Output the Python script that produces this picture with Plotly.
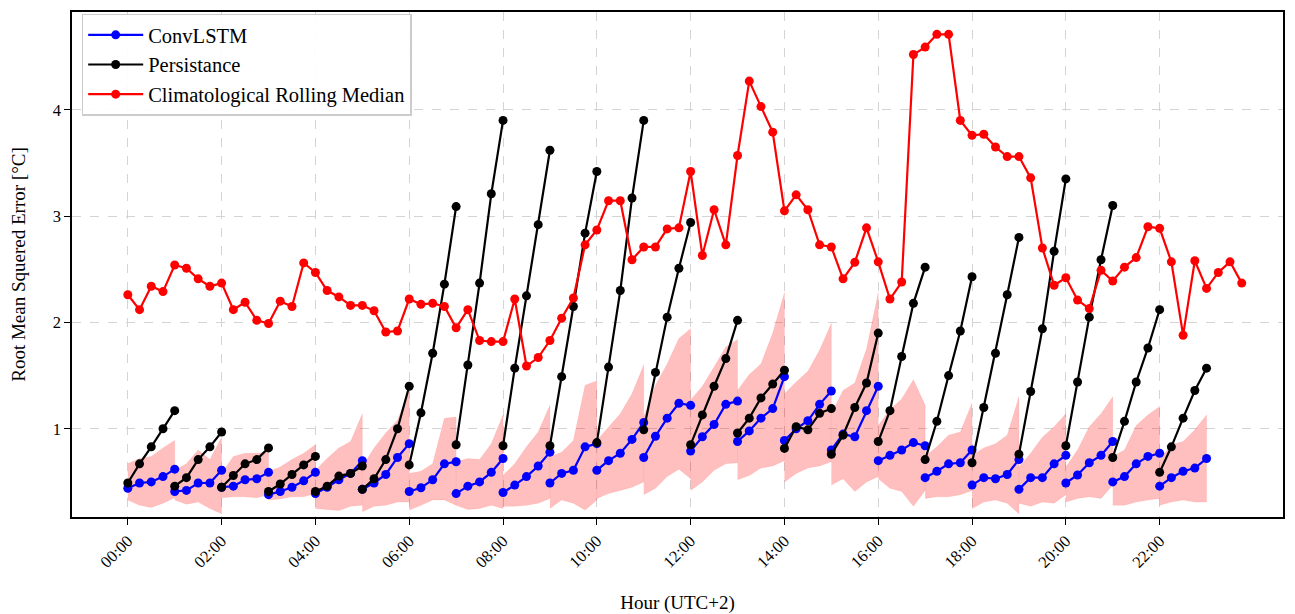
import plotly.graph_objects as go

# ---------------- data ----------------
segment_start_hours = list(range(23))
lead_offsets = [0.0, 0.25, 0.5, 0.75, 1.0]

convlstm = [
    [0.44, 0.49, 0.50, 0.55, 0.62],
    [0.41, 0.42, 0.49, 0.49, 0.61],
    [0.45, 0.46, 0.52, 0.53, 0.59],
    [0.38, 0.41, 0.45, 0.51, 0.59],
    [0.39, 0.45, 0.52, 0.58, 0.70],
    [0.43, 0.49, 0.57, 0.73, 0.86],
    [0.41, 0.445, 0.52, 0.67, 0.69],
    [0.39, 0.46, 0.50, 0.59, 0.72],
    [0.40, 0.47, 0.55, 0.65, 0.78],
    [0.49, 0.58, 0.61, 0.83, 0.86],
    [0.61, 0.70, 0.77, 0.90, 1.06],
    [0.73, 0.93, 1.10, 1.24, 1.22],
    [0.79, 0.925, 1.04, 1.23, 1.26],
    [0.88, 0.98, 1.10, 1.19, 1.49],
    [0.89, 1.00, 1.075, 1.23, 1.355],
    [0.80, 0.95, 0.925, 1.17, 1.40],
    [0.70, 0.75, 0.80, 0.87, 0.84],
    [0.54, 0.60, 0.67, 0.68, 0.80],
    [0.47, 0.54, 0.53, 0.57, 0.71],
    [0.43, 0.54, 0.54, 0.67, 0.75],
    [0.49, 0.565, 0.68, 0.75, 0.88],
    [0.50, 0.55, 0.67, 0.74, 0.77],
    [0.46, 0.54, 0.60, 0.63, 0.72],
]

persistence = [
    [0.49, 0.67, 0.83, 1.00, 1.17],
    [0.46, 0.54, 0.71, 0.83, 0.97],
    [0.45, 0.56, 0.67, 0.71, 0.82],
    [0.41, 0.48, 0.57, 0.66, 0.74],
    [0.41, 0.46, 0.555, 0.58, 0.65],
    [0.43, 0.53, 0.71, 1.00, 1.40],
    [0.66, 1.15, 1.71, 2.36, 3.09],
    [0.85, 1.60, 2.37, 3.21, 3.90],
    [0.84, 1.57, 2.25, 2.92, 3.62],
    [0.84, 1.49, 2.15, 2.84, 3.42],
    [0.87, 1.58, 2.30, 3.17, 3.90],
    [0.99, 1.53, 2.05, 2.51, 2.94],
    [0.85, 1.13, 1.40, 1.66, 2.02],
    [0.96, 1.10, 1.29, 1.42, 1.55],
    [0.815, 1.02, 0.99, 1.145, 1.19],
    [0.76, 0.94, 1.20, 1.43, 1.90],
    [0.88, 1.17, 1.68, 2.18, 2.52],
    [0.71, 1.07, 1.50, 1.92, 2.43],
    [0.68, 1.20, 1.71, 2.26, 2.80],
    [0.76, 1.35, 1.94, 2.67, 3.35],
    [0.84, 1.44, 2.05, 2.59, 3.10],
    [0.73, 1.07, 1.44, 1.76, 2.12],
    [0.59, 0.83, 1.10, 1.36, 1.57],
]

convlstm_upper = [
    [0.67, 0.72, 0.74, 0.82, 0.89],
    [0.61, 0.67, 0.80, 0.71, 0.92],
    [0.58, 0.74, 0.77, 0.77, 0.78],
    [0.60, 0.64, 0.71, 0.77, 0.85],
    [0.61, 0.72, 0.82, 0.88, 1.14],
    [0.64, 0.82, 0.96, 1.08, 1.36],
    [0.58, 0.60, 0.67, 1.10, 1.11],
    [0.69, 0.72, 0.71, 0.86, 1.13],
    [0.56, 0.67, 0.83, 0.97, 1.22],
    [0.74, 0.78, 0.89, 1.41, 1.45],
    [0.89, 1.02, 1.14, 1.33, 1.60],
    [1.11, 1.41, 1.61, 1.85, 1.94],
    [1.27, 1.40, 1.58, 1.77, 1.84],
    [1.36, 1.51, 1.61, 1.90, 2.28],
    [1.33, 1.44, 1.54, 1.74, 1.99],
    [1.14, 1.36, 1.43, 1.75, 2.28],
    [1.03, 1.18, 1.28, 1.46, 1.22],
    [0.74, 0.83, 0.94, 0.97, 1.24],
    [0.75, 0.82, 0.86, 0.94, 1.30],
    [0.64, 0.77, 0.92, 1.02, 1.14],
    [0.64, 0.80, 1.02, 1.14, 1.30],
    [0.74, 0.80, 1.03, 1.13, 1.21],
    [0.71, 0.85, 0.88, 0.99, 1.13],
]

convlstm_lower = [
    [0.33, 0.28, 0.26, 0.30, 0.35],
    [0.33, 0.29, 0.31, 0.25, 0.20],
    [0.35, 0.36, 0.36, 0.35, 0.38],
    [0.33, 0.34, 0.36, 0.36, 0.39],
    [0.25, 0.24, 0.23, 0.27, 0.28],
    [0.22, 0.27, 0.28, 0.31, 0.31],
    [0.235, 0.28, 0.33, 0.33, 0.28],
    [0.28, 0.24, 0.25, 0.28, 0.25],
    [0.27, 0.27, 0.28, 0.30, 0.345],
    [0.25, 0.33, 0.30, 0.235, 0.33],
    [0.345, 0.39, 0.42, 0.45, 0.50],
    [0.38, 0.44, 0.55, 0.62, 0.53],
    [0.42, 0.50, 0.61, 0.67, 0.68],
    [0.52, 0.56, 0.63, 0.65, 0.70],
    [0.50, 0.58, 0.63, 0.65, 0.69],
    [0.47, 0.53, 0.41, 0.50, 0.55],
    [0.53, 0.44, 0.41, 0.27, 0.42],
    [0.345, 0.36, 0.36, 0.38, 0.42],
    [0.25, 0.31, 0.33, 0.30, 0.20],
    [0.30, 0.27, 0.31, 0.30, 0.38],
    [0.31, 0.345, 0.36, 0.345, 0.47],
    [0.28, 0.28, 0.31, 0.33, 0.345],
    [0.28, 0.31, 0.33, 0.31, 0.31],
]

climatology_hours = [i * 0.25 for i in range(96)]
climatology = [
    2.26, 2.12, 2.34, 2.29, 2.54, 2.51, 2.41, 2.34, 2.37, 2.12,
    2.19, 2.02, 1.99, 2.20, 2.15, 2.56, 2.47, 2.30, 2.24, 2.16,
    2.16, 2.11, 1.91, 1.92, 2.22, 2.17, 2.18, 2.15, 1.95, 2.12,
    1.83, 1.82, 1.82, 2.22, 1.59, 1.67, 1.83, 2.04, 2.23, 2.73,
    2.87, 3.145, 3.145, 2.59, 2.71, 2.71, 2.88, 2.89, 3.42, 2.63,
    3.06, 2.73, 3.57, 4.27, 4.03, 3.79, 3.05, 3.20, 3.06, 2.73,
    2.71, 2.41, 2.565, 2.89, 2.57, 2.22, 2.38, 4.52, 4.59, 4.71,
    4.71, 3.90, 3.76, 3.77, 3.65, 3.56, 3.56, 3.36, 2.70, 2.35,
    2.42, 2.21, 2.13, 2.49, 2.39, 2.52, 2.61, 2.90, 2.885, 2.57,
    1.88, 2.58, 2.32, 2.47, 2.57, 2.37,
]

tick_hours = list(range(0, 24, 2))
tick_labels = [f"{h:02d}:00" for h in tick_hours]

# ---------------- figure ----------------
FONT = "Liberation Serif, Times New Roman, serif"
fig = go.Figure()

# shaded bands
for h0, up, lo in zip(segment_start_hours, convlstm_upper, convlstm_lower):
    xs = [h0 + o for o in lead_offsets]
    fig.add_trace(go.Scatter(
        x=xs + xs[::-1], y=up + lo[::-1], mode="lines", fill="toself",
        fillcolor="rgba(255,0,0,0.25)", line=dict(color="rgba(255,0,0,0.08)", width=1),
        showlegend=False, hoverinfo="skip"))


def segmented(series):
    xs, ys = [], []
    for h0, vals in zip(segment_start_hours, series):
        xs += [h0 + o for o in lead_offsets] + [None]
        ys += list(vals) + [None]
    return xs, ys


bx, by = segmented(convlstm)
kx, ky = segmented(persistence)

marker_size = 9
fig.add_trace(go.Scatter(x=bx, y=by, mode="lines+markers", name="ConvLSTM",
                         line=dict(color="#0000ff", width=2.2),
                         marker=dict(color="#0000ff", size=marker_size), connectgaps=False))
fig.add_trace(go.Scatter(x=kx, y=ky, mode="lines+markers", name="Persistance",
                         line=dict(color="#000000", width=2.2),
                         marker=dict(color="#000000", size=marker_size), connectgaps=False))
fig.add_trace(go.Scatter(x=climatology_hours, y=climatology, mode="lines+markers",
                         name="Climatological Rolling Median",
                         line=dict(color="#ff0000", width=2.2),
                         marker=dict(color="#ff0000", size=marker_size)))

fig.update_layout(
    width=1295, height=614,
    margin=dict(l=72, r=12, t=12, b=97),
    paper_bgcolor="white", plot_bgcolor="white",
    font=dict(family=FONT, color="black", size=16),
    legend=dict(x=0.008, y=0.997, xanchor="left", yanchor="top",
                bgcolor="rgba(255,255,255,0.9)", bordercolor="#cccccc", borderwidth=1.5,
                font=dict(family=FONT, size=20.5), tracegroupgap=0, itemwidth=55),
    showlegend=True,
)

fig.update_xaxes(
    range=[-1.19, 24.63], tickmode="array", tickvals=tick_hours, ticktext=tick_labels,
    tickangle=-45, ticks="outside", ticklen=6, tickwidth=1, tickcolor="black",
    tickfont=dict(family=FONT, size=16.5), automargin=False,
    showgrid=True, gridcolor="#d4d4d4", griddash="dash", gridwidth=1,
    showline=True, linecolor="black", linewidth=1.5, mirror=True, zeroline=False,
    title=dict(text="Hour (UTC+2)", font=dict(family=FONT, size=19), standoff=26),
)
fig.update_yaxes(
    range=[0.17, 4.92], tickmode="array", tickvals=[1, 2, 3, 4],
    ticks="outside", ticklen=6, tickwidth=1, tickcolor="black",
    tickfont=dict(family=FONT, size=16.5), automargin=False,
    showgrid=True, gridcolor="#d4d4d4", griddash="dash", gridwidth=1,
    showline=True, linecolor="black", linewidth=1.5, mirror=True, zeroline=False,
    title=dict(text="Root Mean Squered Error [°C]", font=dict(family=FONT, size=19), standoff=22),
)

fig.write_html("out.html")
